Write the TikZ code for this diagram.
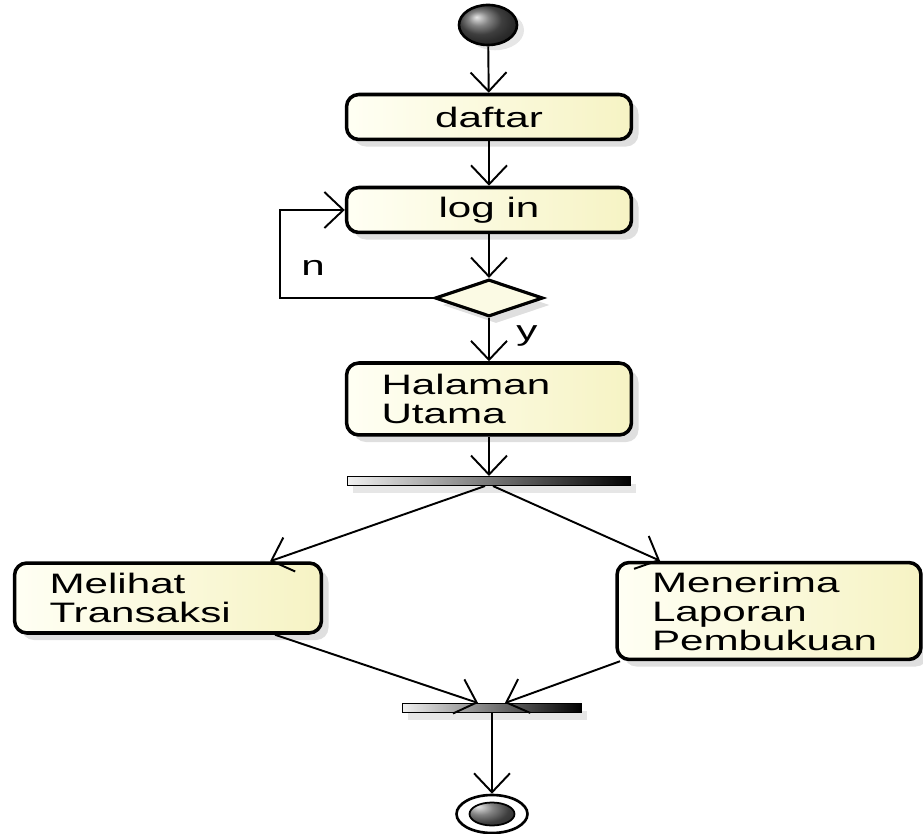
\documentclass[tikz,border=0pt]{standalone}
\usepackage{fontspec}
\newfontfamily\umlfont[FakeStretch=1.5]{Liberation Sans}
\usepackage{tikz}
\usetikzlibrary{shapes.geometric,arrows.meta,shadows,calc}
\definecolor{actlight} {HTML}{FFFFF4}
\definecolor{actyellow}{HTML}{F6F3C4}

\begin{document}
\begin{tikzpicture}[
  act/.style={draw,line width=2pt,rounded corners=7pt,
              left color=actlight,right color=actyellow,
              minimum width=5.7cm,minimum height=0.9cm,align=center,
              font=\umlfont\fontsize{16}{16.5}\selectfont,
              drop shadow={shadow xshift=4pt,shadow yshift=-4pt,opacity=0.25}},
  actl/.style={act,align=left,inner xsep=0.7cm},
  dec/.style={diamond,draw,line width=1.8pt,fill=actyellow!45,aspect=2.9,
              minimum width=2.16cm,minimum height=0.74cm,inner sep=0pt,
              drop shadow={shadow xshift=4pt,shadow yshift=-4pt,opacity=0.25}},
  bar/.style={draw,line width=0.6pt,left color=gray!12,right color=black,
              minimum height=0.18cm,inner sep=0pt,
              drop shadow={shadow xshift=3pt,shadow yshift=-4pt,opacity=0.2}},
  initial/.style={ellipse,draw,line width=1.5pt,ball color=gray!70!black,
                  minimum width=1.16cm,minimum height=0.8cm,inner sep=0pt,
                  drop shadow={shadow xshift=4pt,shadow yshift=-3pt,opacity=0.2}},
  final/.style={ellipse,draw,line width=1.5pt,fill=white,
                minimum width=1.42cm,minimum height=0.76cm,inner sep=0pt,
                path picture={\shadedraw[ball color=gray!70!black,line width=1pt]
                  (path picture bounding box.center) ellipse (0.45cm and 0.23cm);}},
  lbl/.style={font=\umlfont\fontsize{16}{16.5}\selectfont},
  arr/.style={-{Straight Barb[length=0.38cm,width=0.72cm]},line width=1.1pt},
  x=0.02cm,y=-0.02cm
]
\useasboundingbox (0,0) rectangle (923,834);
% main column
\node[initial] (start) at (488,25)  {};
\node[act]     (daftar) at (489,117) {daftar};
\node[act]     (login)  at (489,210) {log in};
\node[dec]     (check)  at (489,298) {};
\node[actl,text width=4.3cm,minimum height=1.44cm] (home) at (489,399) {Halaman\\Utama};
% fork and branches
\node[bar,minimum width=5.66cm] (fork) at (489,481) {};
\node[actl,text width=4.74cm,minimum height=1.4cm] (melihat) at (168,598) {Melihat\\Transaksi};
\node[actl,text width=4.68cm,minimum height=1.94cm] (menerima) at (769,611) {Menerima\\Laporan\\Pembukuan};
% join and end
\node[bar,minimum width=3.58cm] (join) at (492,708) {};
\node[final]   (stop) at (492,814) {};
% guard labels
\node[lbl] (nlabel) at (313,268) {n};
\node[lbl] (ylabel) at (527,336) {y};
\coordinate (loopcorner) at (280,298);

\draw[arr] (start) -- (daftar);
\draw[arr] (daftar) -- (login);
\draw[arr] (login) -- (check);
\draw[arr] (check.west) -- (loopcorner) |- (login.west);
\draw[arr] (check) -- (home);
\draw[arr] (home) -- (fork);
\draw[arr] ($(fork.south)+(-4,0)$) -- ($(melihat.north)+(102,0)$);
\draw[arr] ($(fork.south)+(4,0)$) -- ($(menerima.north)+(-109,0)$);
\draw[arr] ($(melihat.south)+(107,0)$) -- ($(join.north)+(-14,0)$);
\draw[arr] ($(menerima.south)+(-149,0)$) -- ($(join.north)+(13,0)$);
\draw[arr] (join) -- (stop);
\end{tikzpicture}
\end{document}
